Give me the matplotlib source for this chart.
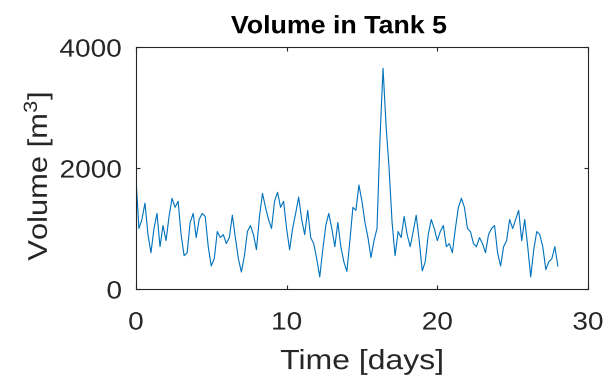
import numpy as np
import matplotlib
matplotlib.use('Agg')
import matplotlib.pyplot as plt
from matplotlib.patheffects import AbstractPathEffect
from matplotlib.transforms import Affine2D

plt.rcParams['font.family'] = ['Liberation Sans', 'DejaVu Sans']
plt.rcParams['mathtext.default'] = 'regular'

# volume samples every 0.2 days
step_days = 0.2
volume = [
    1850, 1000, 1150, 1420, 900, 600, 1000, 1250, 700, 1050,
    800, 1200, 1500, 1350, 1450, 900, 550, 600, 1100, 1250,
    850, 1150, 1250, 1200, 700, 380, 500, 950, 850, 900,
    750, 850, 1220, 850, 500, 280, 550, 950, 1050, 900,
    650, 1200, 1580, 1350, 1150, 1000, 1450, 1600, 1350, 1450,
    1000, 650, 1000, 1250, 1520, 1150, 900, 1300, 850, 750,
    500, 200, 650, 1050, 1250, 1000, 700, 1100, 700, 450,
    290, 800, 1350, 1300, 1720, 1450, 1100, 850, 520, 800,
    1000, 2500, 3650, 2700, 2000, 1100, 550, 950, 850, 1200,
    900, 700, 950, 1220, 800, 300, 450, 900, 1150, 1000,
    800, 950, 1050, 700, 750, 600, 1000, 1350, 1500, 1350,
    1000, 950, 750, 700, 850, 750, 600, 900, 1000, 1050,
    600, 380, 700, 800, 1150, 1000, 1150, 1300, 800, 1150,
    700, 200, 650, 950, 900, 700, 320, 450, 500, 700,
    380,
]
x_ticks = [0, 10, 20, 30]
y_ticks = [0, 2000, 4000]

time = np.arange(len(volume)) * step_days

axis_gray = '#262626'


class Stretch(AbstractPathEffect):
    """Widen glyphs along the text direction around an anchor (0=left, 1=right)."""

    def __init__(self, sx, anchor=0.5):
        super().__init__()
        self.sx = sx
        self.anchor = anchor

    def draw_path(self, renderer, gc, tpath, affine, rgbFace=None):
        xs = tpath.vertices[:, 0]
        x0 = xs.min() + self.anchor * (xs.max() - xs.min())
        widen = Affine2D().translate(-x0, 0).scale(self.sx, 1).translate(x0, 0)
        renderer.draw_path(gc, tpath, widen + affine, rgbFace)


fig = plt.figure(figsize=(6.04, 3.80), dpi=100)
ax = fig.add_axes([0.225, 0.2395, 0.7485, 0.6365])

ax.plot(time, volume, color='#0072BD', linewidth=0.8)

ax.set_xlim(0, 30)
ax.set_ylim(0, 4000)
ax.set_xticks(x_ticks)
ax.set_yticks(y_ticks)

for spine in ax.spines.values():
    spine.set_color(axis_gray)
    spine.set_linewidth(0.8)
ax.tick_params(direction='in', top=True, right=True, length=3, width=0.8,
               color=axis_gray, labelcolor=axis_gray, labelsize=18)
ax.tick_params(axis='x', pad=15.5)
ax.tick_params(axis='y', pad=10)

for label in ax.get_xticklabels():
    label.set_path_effects([Stretch(1.12, 0.5)])
for label in ax.get_yticklabels():
    label.set_path_effects([Stretch(1.12, 1.0)])

xl = ax.set_xlabel('Time [days]', fontsize=20, color=axis_gray, labelpad=10.5)
yl = ax.set_ylabel('Volume [m$^3$]', fontsize=19.5, color=axis_gray, labelpad=8)
yl.set_y(0.467)
tl = ax.set_title('Volume in Tank 5', fontsize=18, fontweight='bold', color='black',
                  pad=10, x=0.449)
xl.set_path_effects([Stretch(1.15, 0.5)])
yl.set_path_effects([Stretch(1.14, 0.5)])
tl.set_path_effects([Stretch(1.07, 0.5)])

fig.savefig('out.png', dpi=100)
